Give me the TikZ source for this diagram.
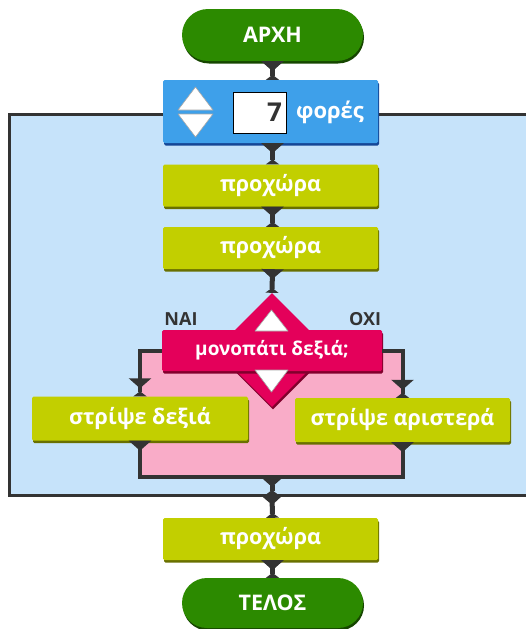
\documentclass[tikz,border=0pt]{standalone}
\usepackage{fontspec}
\setmainfont{Open Sans}
\usetikzlibrary{arrows.meta,shapes.geometric,shadows}
\definecolor{startg}{RGB}{44,138,0}
\definecolor{startgd}{RGB}{22,70,0}
\definecolor{repc}{RGB}{62,160,234}
\definecolor{repd}{RGB}{20,70,150}
\definecolor{actc}{RGB}{194,207,0}
\definecolor{actd}{RGB}{105,112,0}
\definecolor{decc}{RGB}{228,0,90}
\definecolor{decd}{RGB}{130,0,45}
\definecolor{loopbg}{RGB}{198,227,250}
\definecolor{pinkbg}{RGB}{249,172,200}
\definecolor{conncol}{RGB}{51,51,51}
\tikzset{
  blk/.style={rectangle, inner sep=0pt, text=white},
  term/.style={blk, fill=startg, minimum width=181pt, minimum height=52pt, rounded corners=26pt,
    general shadow={fill=startgd, shadow xshift=1pt, shadow yshift=-2.5pt}},
  repblk/.style={blk, fill=repc, minimum width=215pt, minimum height=63pt, rounded corners=1.5pt,
    general shadow={fill=repd, shadow xshift=1pt, shadow yshift=-2.5pt}},
  actblk/.style={blk, fill=actc, minimum width=215pt, minimum height=42pt, rounded corners=1.5pt,
    general shadow={fill=actd, shadow xshift=1pt, shadow yshift=-2.5pt}},
  decdia/.style={diamond, aspect=1, inner sep=0pt, fill=decc, minimum width=114pt, minimum height=114pt,
    general shadow={fill=decd, shadow xshift=1pt, shadow yshift=-2.5pt}},
  decband/.style={blk, fill=decc, minimum width=220pt, minimum height=41pt, rounded corners=1.5pt,
    general shadow={fill=decd, shadow xshift=1pt, shadow yshift=-2.5pt}},
  tri/.style={fill=white, draw=black!35, line width=0.6pt, line join=round},
  lbl/.style={text=conncol, font=\bfseries\fontsize{18}{21}\selectfont},
  conn/.style={draw=conncol, line width=5pt,
    {Triangle[reversed,width=22pt,length=10pt]}-{Triangle[reversed,width=13pt,length=5pt]}},
  connin/.style={draw=conncol, line width=4pt, -{Triangle[reversed,width=13pt,length=5pt]},
    postaction={draw=conncol, line width=4pt, shorten >=8pt, -{Triangle[width=22pt,length=10pt]}}},
  connout/.style={draw=conncol, line width=4pt,
    {Triangle[reversed,width=22pt,length=10pt]}-{Triangle[reversed,width=22pt,length=10pt]}},
  loopline/.style={draw=conncol, line width=3pt}
}
\begin{document}
\begin{tikzpicture}[x=1pt,y=-1pt, font=\bfseries\fontsize{21.5}{24}\selectfont]
\useasboundingbox (0,0) rectangle (526,629);
\clip (0,0) rectangle (526,629);
% loop region
\fill[loopbg] (9,114) rectangle (545,495);
\draw[loopline] (545,114) -- (9,114) -- (9,495) -- (545,495);
% branch region
\fill[pinkbg] (140,351) rectangle (403,477);
\coordinate (j) at (272,477);
\coordinate (lb) at (272,495);
% blocks
\node[term] (start) at (272.5,35) {ΑΡΧΗ};
\node[repblk] (rep) at (270.5,111.5) {};
\draw[tri] (178,110) -- (213,110) -- (195.5,87) -- cycle;
\draw[tri] (178,114) -- (213,114) -- (195.5,137) -- cycle;
\node[draw=black, line width=0.8pt, fill=white, text=conncol, text width=45pt, align=right,
  inner xsep=4pt, inner ysep=0pt, minimum height=41pt, font=\bfseries\fontsize{26}{28}\selectfont]
  (cnt) at (259.5,112.5) {7};
\node[text=white, font=\bfseries\fontsize{22}{25}\selectfont] (times) at (330,112) {φορές};
\node[actblk] (a1) at (270.5,185.5) {προχώρα};
\node[actblk] (a2) at (270.5,248) {προχώρα};
\node[decdia] (dia) at (272,350) {};
\node[decband, font=\bfseries\fontsize{19}{22}\selectfont] (band) at (272,350.5) {μονοπάτι δεξιά;};
\draw[tri] (255,331) -- (288,331) -- (271.5,310) -- cycle;
\draw[tri] (255,370) -- (288,370) -- (271.5,392) -- cycle;
\node[lbl] (yes) at (181,319) {ΝΑΙ};
\node[lbl] (no) at (365,319) {ΟΧΙ};
\node[actblk, minimum width=216pt, minimum height=44pt] (r) at (140,418.5) {στρίψε δεξιά};
\node[actblk, minimum height=44pt] (l) at (402.5,420) {στρίψε αριστερά};
\node[actblk] (a3) at (270.5,539) {προχώρα};
\node[term, minimum height=50pt, rounded corners=25pt] (end) at (272.5,603) {ΤΕΛΟΣ};
% connectors
\draw[conn] (start.south) -- (start.south |- rep.north);
\draw[conn] (start.south |- rep.south) -- (start.south |- a1.north);
\draw[conn] (start.south |- a1.south) -- (start.south |- a2.north);
\draw[conn] (start.south |- a2.south) -- (dia.north);
\draw[connin] (band.west) -| (r.north);
\draw[connin] (band.east) -| (l.north);
\draw[connout] (r.south) |- (j) -| (l.south);
\draw[conn] (j) -- (lb);
\draw[conn] (lb) -- (start.south |- a3.north);
\draw[conn] (start.south |- a3.south) -- (end.north);
\end{tikzpicture}
\end{document}
